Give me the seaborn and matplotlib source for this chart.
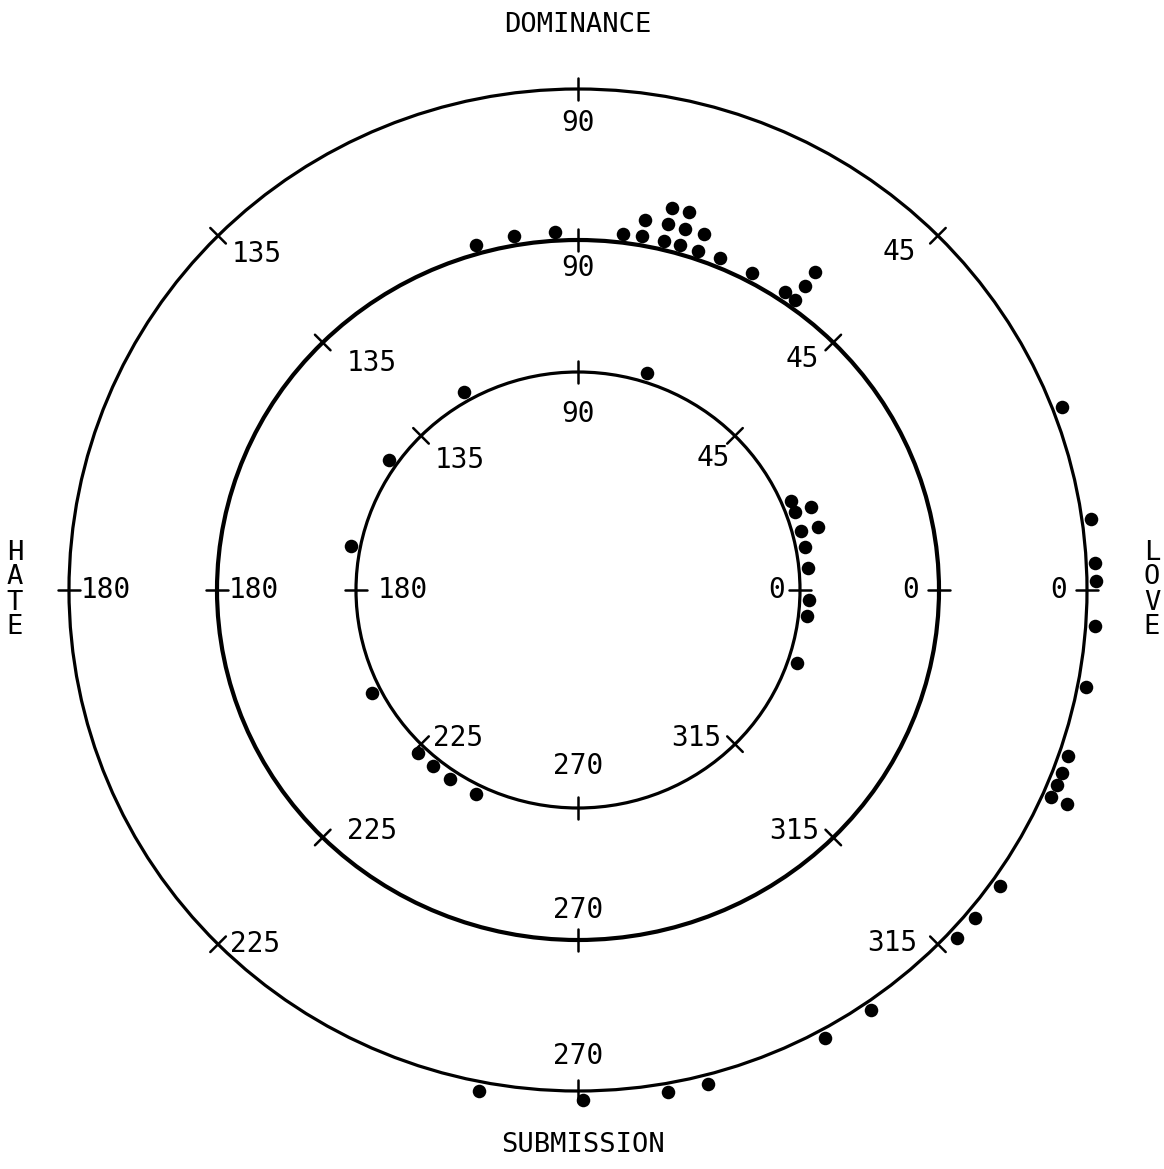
import numpy as np
import pandas as pd
import seaborn as sns
import matplotlib.pyplot as plt
from matplotlib.patches import Ellipse

########################################################
# Data: angular position (degrees) of each point on each circle.
# Repeated angles are points stacked outward at the same angle.
########################################################
inner_angles = [72.7, 119.5, 145, 168.7, 207, 226, 231, 236.4, 243.7,
                23, 20, 20, 15, 15, 11, 5.5, 357.6, 353.3, 341.3]
middle_angles = [106, 100, 93.5, 83, 80, 80, 76.5, 76.5, 76.5, 74, 74, 74,
                 71, 71, 67.5, 62, 56, 54, 54, 54]
outer_angles = [21, 8, 3, 1, 356, 349, 341, 339, 337.5, 336, 336,
                324.5, 320, 317, 304.5, 298.5, 284.5, 280, 270.5, 259]

tick_angles = [0, 45, 90, 135, 180, 225, 270, 315]
tick_labels = ["0", "45", "90", "135", "180", "225", "270", "315"]

ring_names = ["inner", "middle", "outer"]

# layout (pixels) -- scan is a bit stretched sideways
ring_rx = {"inner": 222, "middle": 361, "outer": 509}
ring_ry = {"inner": 218, "middle": 350, "outer": 501}
ring_lw = {"inner": 2.3, "middle": 3.0, "outer": 2.3}
dot_gap = 9
stack_step = 17

df = pd.concat([
    pd.DataFrame({"ring": "inner", "angle": inner_angles}),
    pd.DataFrame({"ring": "middle", "angle": middle_angles}),
    pd.DataFrame({"ring": "outer", "angle": outer_angles}),
], ignore_index=True)
df["level"] = df.groupby(["ring", "angle"]).cumcount()
theta = np.deg2rad(df["angle"])
off = dot_gap + stack_step * df["level"]
df["x"] = (df["ring"].map(ring_rx) + off) * np.cos(theta)
df["y"] = (df["ring"].map(ring_ry) + off) * np.sin(theta)

########################################################
# Figure
########################################################
sns.set_style("white")
plt.rcParams["font.family"] = ["DejaVu Sans Mono"]
plt.rcParams["text.color"] = "black"

fig = plt.figure(figsize=(11.64, 11.69), dpi=100)
ax = fig.add_axes([0, 0, 1, 1])
ax.set_xlim(-578, 586)
ax.set_ylim(-579, 590)
ax.axis("off")

# label offsets per tick angle: dx, dy, ha, va
label_pos = {
    0: (-20, 0, "right", "center"),
    45: (-14, -16, "right", "center"),
    90: (0, -14, "center", "top"),
    135: (14, -18, "left", "center"),
    180: (12, 0, "left", "center"),
    225: (12, 6, "left", "center"),
    270: (0, 16, "center", "bottom"),
    315: (-14, 6, "right", "center"),
}
# small per-ring corrections
label_nudge = {
    ("inner", 90): (0, -14), ("inner", 270): (0, 12), ("inner", 180): (10, 0),
    ("inner", 0): (5, 0), ("inner", 45): (9, -6), ("inner", 135): (0, -6),
    ("middle", 135): (10, -2), ("middle", 225): (12, 0),
    ("outer", 90): (0, -6), ("outer", 270): (0, 5), ("outer", 45): (-8, 0),
    ("outer", 225): (0, -6), ("outer", 315): (-6, -5),
}

for ring in ring_names:
    rx, ry = ring_rx[ring], ring_ry[ring]
    ax.add_patch(Ellipse((0, 0), 2 * rx, 2 * ry, fill=False,
                         edgecolor="black", linewidth=ring_lw[ring]))
    for a, lab in zip(tick_angles, tick_labels):
        t = np.deg2rad(a)
        c, s = np.cos(t), np.sin(t)
        ax.plot([(rx - 11) * c, (rx + 11) * c], [(ry - 11) * s, (ry + 11) * s],
                color="black", linewidth=1.8)
        dx, dy, ha, va = label_pos[a]
        ndx, ndy = label_nudge.get((ring, a), (0, 0))
        ax.text(rx * c + dx + ndx, ry * s + dy + ndy, lab, ha=ha, va=va,
                fontsize=20, color="black")

sns.scatterplot(data=df, x="x", y="y", color="black", s=95, linewidth=0,
                legend=False, ax=ax)
ax.set_xlabel("")
ax.set_ylabel("")

# axis names
ax.text(0, 565, "DOMINANCE", ha="center", va="center", fontsize=19.5)
ax.text(5, -555, "SUBMISSION", ha="center", va="center", fontsize=19.5)
ax.text(-563, 0, "\n".join("HATE"), ha="center", va="center", fontsize=19.5,
        linespacing=0.95)
ax.text(574, 0, "\n".join("LOVE"), ha="center", va="center", fontsize=19.5,
        linespacing=0.95)

fig.savefig("out.png", dpi=100)
